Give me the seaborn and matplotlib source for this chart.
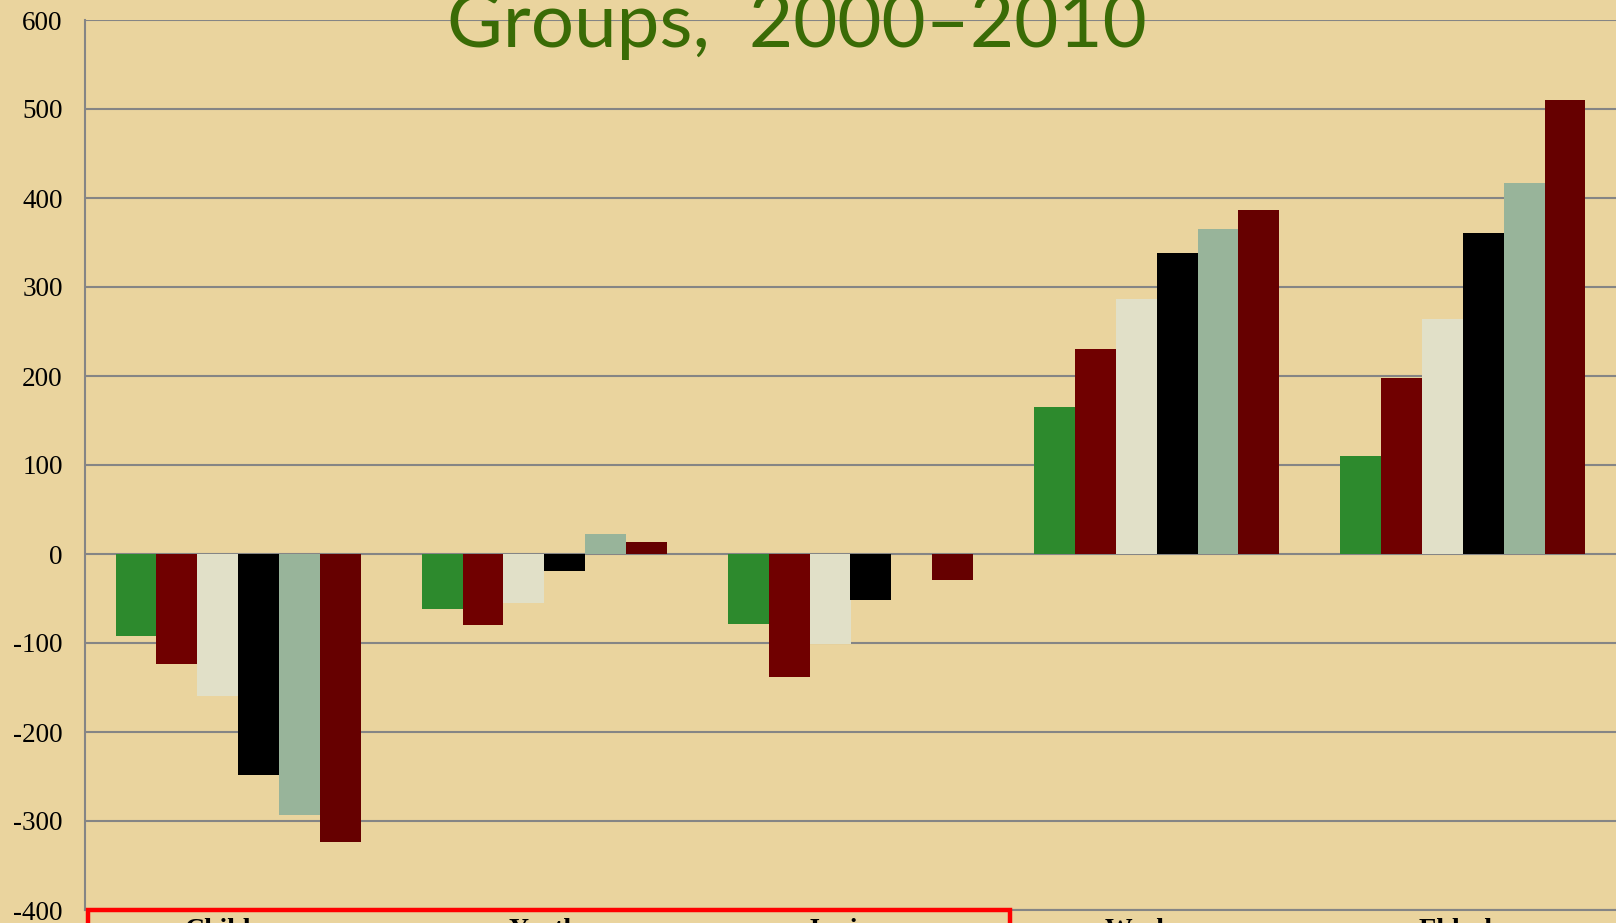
import numpy as np
import pandas as pd
import seaborn as sns
from matplotlib import pyplot as plt
import matplotlib.transforms as mtrans
import matplotlib.patches as mpatches

# Chart values
groups = ["Children", "Youth", "Juniors", "Workers", "Elderly"]
series = ["2000", "2002", "2004", "2006", "2008", "2010"]
s2000 = [-92, -62, -79, 165, 110]
s2002 = [-124, -80, -138, 230, 198]
s2004 = [-160, -55, -101, 287, 264]
s2006 = [-248, -19, -52, 338, 361]
s2008 = [-293, 22, 0, 365, 417]
s2010 = [-324, 13, -29, 386, 510]
colors = ["#2D8A2D", "#700000", "#E1E0C8", "#000000", "#98B49A", "#660000"]
y_ticks = [-400, -300, -200, -100, 0, 100, 200, 300, 400, 500, 600]

# Build long-form table for seaborn
rows = []
for name, vals in zip(series, [s2000, s2002, s2004, s2006, s2008, s2010]):
    for g, v in zip(groups, vals):
        rows.append({"group": g, "series": name, "value": v})
df = pd.DataFrame(rows)

sns.set_style("white")
plt.rcParams['axes.unicode_minus'] = False

bg = "#EAD49E"
fig = plt.figure(figsize=(16.16, 9.23), dpi=100, facecolor=bg)
ax = fig.add_axes([85/1616, 1-910/923, 1-85/1616, 890/923])
ax.set_facecolor(bg)

sns.barplot(data=df, x="group", y="value", hue="series", order=groups,
            hue_order=series, palette=colors, saturation=1, width=0.8,
            linewidth=0, edgecolor="none", legend=False, ax=ax)

ax.set_ylim(-400, 600)
ax.set_xlim(-0.5, 4.5)
ax.set_yticks(y_ticks)
ax.set_yticklabels([str(t) for t in y_ticks], family="Liberation Serif",
                   fontsize=19.5, color="black")
ax.yaxis.grid(True, color="#858585", linewidth=1.5)
ax.set_axisbelow(True)
ax.tick_params(axis="y", length=0, pad=16)

# category labels (only their tops show) and divider ticks
ax.set_xticks(range(len(groups)))
ax.set_xticklabels(groups, family="Liberation Serif", fontweight="bold",
                   fontsize=20, color="black")
ax.tick_params(axis="x", which="major", length=0, pad=6)
ax.set_xticks(np.arange(-0.5, 5.0, 1.0), minor=True)
ax.tick_params(axis="x", which="minor", length=20, width=1.5, color="#858585")
ax.set_xlabel("")
ax.set_ylabel("")

for side in ["top", "right"]:
    ax.spines[side].set_visible(False)
for side in ["left", "bottom"]:
    ax.spines[side].set_color("#858585")
    ax.spines[side].set_linewidth(1.5)

# red highlight box round the first three labels
trans = mtrans.blended_transform_factory(ax.transData, fig.transFigure)
rect = mpatches.Rectangle((-0.49, -0.05), 3.01, 0.05 + 1 - 910/923, transform=trans,
                          fill=False, edgecolor="#FF0000", linewidth=3.2, clip_on=False)
fig.add_artist(rect)

# title, cut off at the top as in the reference
fig.text(797/1616, 1-47/923, "Groups,  2000\u20132010", ha="center", va="baseline",
         family="Lato", fontsize=55, color="#3A6B06")

plt.savefig("out.png", dpi=100, facecolor=bg)
